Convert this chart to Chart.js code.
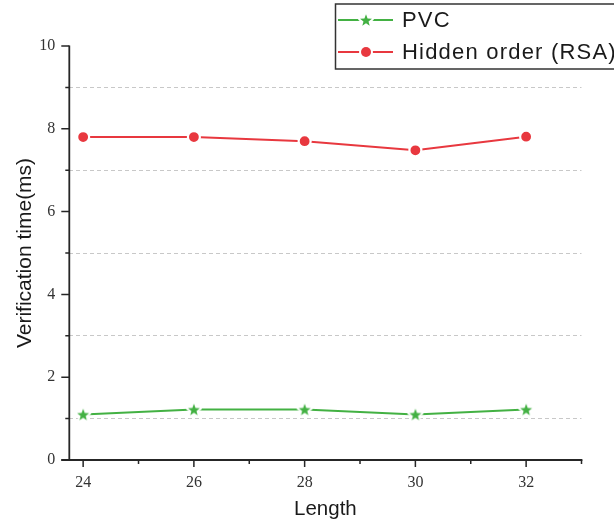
<!DOCTYPE html>
<html>
<head>
<meta charset="utf-8">
<script src="https://cdn.jsdelivr.net/npm/chart.js@4/dist/chart.umd.min.js"></script>
<style>
html,body{margin:0;padding:0;background:#fff;overflow:hidden;}
#c{display:block;}
</style>
</head>
<body>
<canvas id="c" width="614" height="523"></canvas>
<script>
const lengths = [24, 26, 28, 30, 32];
const pvcValues = [1.1, 1.22, 1.22, 1.1, 1.22];
const rsaValues = [7.8, 7.8, 7.7, 7.48, 7.81];
const seriesNames = ['PVC', 'Hidden order (RSA)'];
const xMajorTicks = [24, 26, 28, 30, 32];
const xMinorTicks = [25, 27, 29, 31, 33];
const yMajorTicks = [0, 2, 4, 6, 8, 10];
const yMinorTicks = [1, 3, 5, 7, 9];

const GREEN = '#43b143';
const RED = '#e8383f';
const AXIS = '#262626';

function starPath(ctx, cx, cy, R, r) {
  ctx.beginPath();
  for (let i = 0; i < 10; i++) {
    const rad = i % 2 === 0 ? R : r;
    const a = -Math.PI / 2 + i * Math.PI / 5;
    const x = cx + rad * Math.cos(a), y = cy + rad * Math.sin(a);
    if (i === 0) ctx.moveTo(x, y); else ctx.lineTo(x, y);
  }
  ctx.closePath();
}
function makeStar(R) {
  const s = document.createElement('canvas');
  s.width = 22; s.height = 22;
  const c = s.getContext('2d');
  starPath(c, 11, 11.6, R, R * 0.42);
  c.lineJoin = 'round';
  c.strokeStyle = '#fff'; c.lineWidth = 4; c.stroke();
  c.fillStyle = GREEN; c.fill();
  return s;
}
const starImg = makeStar(6.3);

const axesPlugin = {
  id: 'axesPlugin',
  afterDatasetsDraw(chart) {
    const ctx = chart.ctx;
    const xs = chart.scales.x, ys = chart.scales.y;
    const left = chart.chartArea.left, bottom = ys.getPixelForValue(0);
    ctx.save();
    ctx.strokeStyle = AXIS; ctx.lineWidth = 1.8; ctx.lineCap = 'butt';
    ctx.beginPath();
    ctx.moveTo(left, ys.getPixelForValue(10) - 0.5);
    ctx.lineTo(left, bottom + 0.9);
    ctx.moveTo(left - 8, bottom);
    ctx.lineTo(xs.getPixelForValue(33) + 0.9, bottom);
    ctx.stroke();
    ctx.lineWidth = 1.5;
    ctx.beginPath();
    yMajorTicks.forEach(v => { const y = ys.getPixelForValue(v); ctx.moveTo(left - 8, y); ctx.lineTo(left, y); });
    yMinorTicks.forEach(v => { const y = ys.getPixelForValue(v); ctx.moveTo(left - 4, y); ctx.lineTo(left, y); });
    xMajorTicks.forEach(v => { const x = xs.getPixelForValue(v); ctx.moveTo(x, bottom); ctx.lineTo(x, bottom + 7); });
    xMinorTicks.forEach(v => { const x = xs.getPixelForValue(v); ctx.moveTo(x, bottom); ctx.lineTo(x, bottom + 4); });
    ctx.stroke();
    ctx.restore();
  },
  afterDraw(chart) {
    const ctx = chart.ctx;
    ctx.save();
    ctx.strokeStyle = '#333'; ctx.lineWidth = 1.5;
    ctx.strokeRect(335.5, 4, 300, 65);
    const rows = [
      {y: 20, color: GREEN, name: seriesNames[0], star: true},
      {y: 52, color: RED, name: seriesNames[1], star: false}
    ];
    rows.forEach(r => {
      ctx.strokeStyle = r.color; ctx.lineWidth = 2;
      ctx.beginPath(); ctx.moveTo(338, r.y); ctx.lineTo(393, r.y); ctx.stroke();
      if (r.star) {
        ctx.drawImage(starImg, 366 - 11, r.y - 11);
      } else {
        ctx.beginPath(); ctx.arc(366, r.y, 7, 0, Math.PI * 2); ctx.fillStyle = '#fff'; ctx.fill();
        ctx.beginPath(); ctx.arc(366, r.y, 5, 0, Math.PI * 2); ctx.fillStyle = RED; ctx.fill();
      }
      ctx.fillStyle = '#1a1a1a';
      ctx.font = '22px "Liberation Sans", Arial, sans-serif';
      ctx.letterSpacing = '1.2px';
      ctx.textBaseline = 'middle';
      ctx.fillText(r.name, 402, r.y + 1);
    });
    ctx.restore();
  }
};

new Chart(document.getElementById('c'), {
  type: 'line',
  data: {
    datasets: [
      {
        label: seriesNames[0],
        data: lengths.map((x, i) => ({x: x, y: pvcValues[i]})),
        borderColor: GREEN, backgroundColor: GREEN, borderWidth: 2,
        pointStyle: starImg, pointRadius: 7, pointHoverRadius: 7,
        tension: 0, fill: false
      },
      {
        label: seriesNames[1],
        data: lengths.map((x, i) => ({x: x, y: rsaValues[i]})),
        borderColor: RED, backgroundColor: RED, borderWidth: 2,
        pointStyle: 'circle', pointRadius: 6, pointBorderWidth: 2.2,
        pointBorderColor: '#fff', pointBackgroundColor: RED, pointHoverRadius: 6,
        tension: 0, fill: false
      }
    ]
  },
  options: {
    responsive: false,
    animation: false,
    events: [],
    layout: {padding: {left: 0, right: 32.5, top: 46, bottom: 0}},
    plugins: {legend: {display: false}, tooltip: {enabled: false}},
    scales: {
      x: {
        type: 'linear', min: 23.75, max: 33,
        afterBuildTicks: s => { s.ticks = xMajorTicks.map(v => ({value: v})); },
        afterFit: s => { s.height = 63; },
        grid: {display: false, drawTicks: false},
        border: {display: false},
        ticks: {
          padding: 13, color: '#333',
          font: {family: '"Liberation Serif", "Times New Roman", serif', size: 16},
          callback: v => String(v)
        },
        title: {
          display: true, text: 'Length', color: '#1a1a1a',
          font: {family: '"Liberation Sans", Arial, sans-serif', size: 20.5},
          padding: {top: 0, bottom: 1}
        }
      },
      y: {
        type: 'linear', min: 0, max: 10,
        afterBuildTicks: s => { s.ticks = [0,1,2,3,4,5,6,7,8,9,10].map(v => ({value: v})); },
        afterFit: s => { s.width = 69.3; },
        grid: {
          drawTicks: false, lineWidth: 1,
          color: c => (c.tick && c.tick.value % 2 === 1) ? '#c8c8c8' : 'rgba(0,0,0,0)'
        },
        border: {display: false, dash: [4, 3]},
        ticks: {
          padding: 14, color: '#333',
          font: {family: '"Liberation Serif", "Times New Roman", serif', size: 16},
          callback: v => (v % 2 === 0 ? String(v) : '')
        },
        title: {
          display: true, text: 'Verification time(ms)', color: '#1a1a1a',
          font: {family: '"Liberation Sans", Arial, sans-serif', size: 21},
          padding: {top: 13, bottom: 0}
        }
      }
    }
  },
  plugins: [axesPlugin]
});
</script>
</body>
</html>
